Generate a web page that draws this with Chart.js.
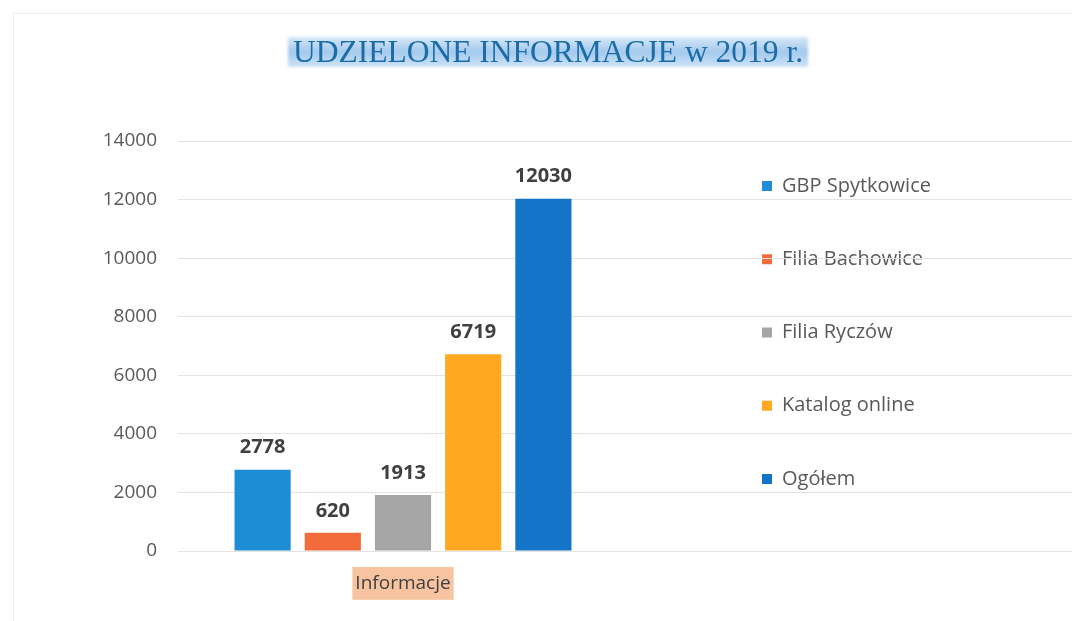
<!DOCTYPE html>
<html><head><meta charset="utf-8">
<script src="https://cdn.jsdelivr.net/npm/chart.js@4.4.1/dist/chart.umd.min.js"></script>
<style>
html,body{margin:0;padding:0;background:#fff;}
#wrap{position:relative;width:1072px;height:621px;overflow:hidden;}
canvas{position:absolute;left:0;top:0;}
#frame{position:absolute;left:13px;top:13px;right:-2px;bottom:-2px;border-left:1px solid #ededed;border-top:1px solid #ededed;pointer-events:none;}
</style></head><body>
<div id="wrap"><canvas id="c" width="1072" height="621"></canvas><div id="frame"></div></div>
<script>
const chartTitle = 'UDZIELONE INFORMACJE w 2019 r.';
const categories = ['Informacje'];
const seriesNames = ['GBP Spytkowice', 'Filia Bachowice', 'Filia Ryczów', 'Katalog online', 'Ogółem'];
const gbpSpytkowice = [2778];
const filiaBachowice = [620];
const filiaRyczow = [1913];
const katalogOnline = [6719];
const ogolem = [12030];
const seriesValues = [gbpSpytkowice, filiaBachowice, filiaRyczow, katalogOnline, ogolem];
const seriesColors = ['#1e8dd6', '#f26b3a', '#a5a5a5', '#ffa820', '#1474c8'];
const yTickValues = [0, 2000, 4000, 6000, 8000, 10000, 12000, 14000];
const yTickLabels = ['0', '2000', '4000', '6000', '8000', '10000', '12000', '14000'];

const GRID_COLOR = '#e3e3e3';
const TITLE_FONT = {family: 'Liberation Serif', size: 31.5, weight: 'normal'};
const LEGEND_W = 363.25;

const legendWidth = {
  id: 'legendWidth',
  beforeLayout(chart) {
    const lg = chart.legend;
    if (lg && !lg._wPatched) {
      const orig = lg.fit.bind(lg);
      lg.fit = function () { orig(); this.width = LEGEND_W; };
      lg._wPatched = true;
    }
  }
};

const titleHighlight = {
  id: 'titleHighlight',
  beforeDraw(chart) {
    const tb = chart.titleBlock;
    if (!tb) return;
    const ctx = chart.ctx;
    ctx.save();
    ctx.font = TITLE_FONT.size + 'px "' + TITLE_FONT.family + '"';
    const w = ctx.measureText(chartTitle).width;
    const cx = (tb.left + tb.right) / 2;
    const cy = tb.top + 35 + TITLE_FONT.size * 0.6;
    const x0 = cx - w / 2 - 5, x1 = cx + w / 2 + 5, y0 = cy - 17, y1 = cy + 13;
    const g = ctx.createLinearGradient(0, y0, 0, y1);
    g.addColorStop(0, '#d6e8f8');
    g.addColorStop(0.5, '#a3c9ed');
    g.addColorStop(1, '#cde2f6');
    ctx.filter = 'blur(1.5px)';
    ctx.fillStyle = g;
    ctx.fillRect(x0, y0, x1 - x0, y1 - y0);
    ctx.restore();
  }
};

const gridExtend = {
  id: 'gridExtend',
  beforeDatasetsDraw(chart) {
    const y = chart.scales.y;
    const {ctx, chartArea} = chart;
    ctx.save();
    ctx.strokeStyle = GRID_COLOR;
    ctx.lineWidth = 1;
    y.ticks.forEach(t => {
      const py = Math.round(y.getPixelForValue(t.value) - 0.5) + 0.5;
      ctx.beginPath();
      ctx.moveTo(chartArea.right, py);
      ctx.lineTo(chart.width, py);
      ctx.stroke();
    });
    ctx.restore();
  }
};

const valueLabels = {
  id: 'valueLabels',
  afterDatasetsDraw(chart) {
    const ctx = chart.ctx;
    ctx.save();
    ctx.font = 'bold 20px "Open Sans"';
    ctx.fillStyle = '#404040';
    ctx.textAlign = 'center';
    ctx.textBaseline = 'middle';
    chart.data.datasets.forEach((ds, i) => {
      chart.getDatasetMeta(i).data.forEach((el, j) => {
        ctx.fillText(String(ds.data[j]), el.x, el.y - 22);
      });
    });
    ctx.restore();
  }
};

new Chart(document.getElementById('c'), {
  type: 'bar',
  data: {
    labels: categories,
    datasets: seriesNames.map((name, i) => ({
      label: name,
      data: seriesValues[i],
      backgroundColor: seriesColors[i],
      borderWidth: 0,
      categoryPercentage: 0.78,
      barPercentage: 0.8,
      yAxisID: 'y'
    }))
  },
  options: {
    responsive: false,
    animation: false,
    layout: {padding: {left: 24, right: 0, top: 0, bottom: 0}},
    scales: {
      x: {
        grid: {display: false},
        border: {display: false},
        ticks: {
          color: '#404040',
          font: {family: 'Open Sans', size: 19},
          padding: 13,
          showLabelBackdrop: true,
          backdropColor: '#f7c3a0',
          backdropPadding: {top: 5, bottom: 5, left: 3, right: 3}
        },
        afterFit(s) { s.height = 70; }
      },
      y: {
        min: 0, max: 14000,
        grid: {color: GRID_COLOR, drawTicks: false, lineWidth: 1},
        border: {display: false},
        ticks: {
          color: '#595959',
          font: {family: 'Open Sans', size: 19},
          padding: 21,
          callback: (v, i) => yTickLabels[i]
        },
        afterBuildTicks(s) { s.ticks = yTickValues.map(v => ({value: v})); },
        afterFit(s) { s.width = 154; }
      },
      y2: {
        type: 'linear',
        position: 'right',
        display: true,
        grid: {display: false, drawTicks: false},
        border: {display: false},
        ticks: {display: false},
        afterFit(s) { s.width = 80.75; }
      }
    },
    plugins: {
      title: {
        display: true,
        text: chartTitle,
        color: '#1b6ca7',
        font: TITLE_FONT,
        padding: {top: 35, bottom: 68.2}
      },
      legend: {
        position: 'right',
        align: 'start',
        title: {display: true, text: ' ', font: {size: 10}, padding: {top: 0, bottom: 110.75}},
        labels: {
          boxWidth: 10,
          boxHeight: 10,
          padding: 53.25,
          color: '#595959',
          font: {family: 'Open Sans', size: 20}
        }
      },
      tooltip: {enabled: false}
    }
  },
  plugins: [legendWidth, titleHighlight, gridExtend, valueLabels]
});
</script>
</body></html>
